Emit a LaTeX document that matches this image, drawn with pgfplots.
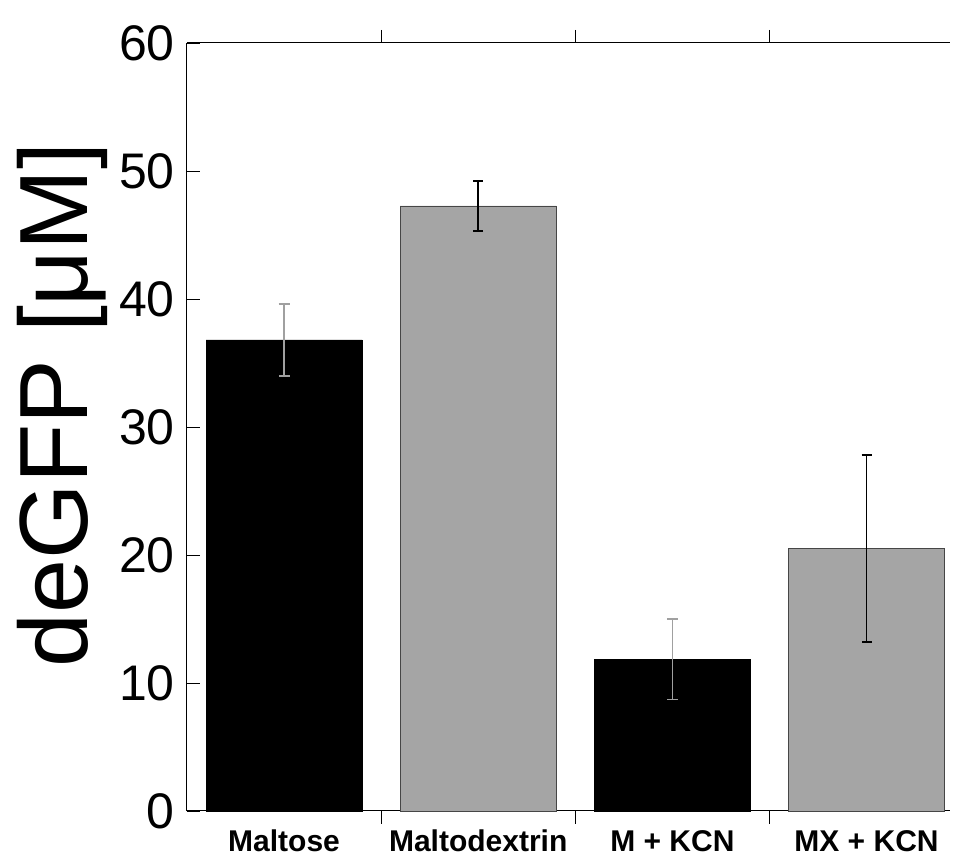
\documentclass[border=0pt]{standalone}
\usepackage{pgfplots}
\pgfplotsset{compat=1.18}
\usepackage{fontspec}
\setmainfont{Liberation Sans}
\definecolor{barg}{RGB}{165,165,165}
\definecolor{edgeg}{RGB}{70,70,70}
\definecolor{errg}{RGB}{160,160,160}
\begin{document}
\begin{tikzpicture}
\begin{axis}[
  scale only axis,
  width=763pt, height=768pt,
  xmin=0.5, xmax=4.43,
  ymin=0, ymax=60,
  axis x line=box,
  axis y line*=left,
  axis line style={line width=1pt, black},
  ytick={0,10,20,30,40,50,60},
  ytick pos=left,
  xtick={1,2,3,4},
  xticklabels={Maltose,Maltodextrin,M + KCN,MX + KCN},
  minor xtick={1.5,2.5,3.5},
  major x tick style={draw=none},
  minor x tick style={line width=0.8pt, black},
  minor tick length=13pt,
  major tick length=13pt,
  tick align=inside,
  y tick style={line width=0.8pt, black},
  /pgf/number format/assume math mode=true,
  yticklabel style={font=\fontsize{50}{50}\selectfont, inner sep=0pt, xshift=-12pt},
  xticklabel style={font=\fontsize{30}{30}\selectfont\bfseries, inner sep=0pt, yshift=-6pt},
  ylabel={deGFP [μM]},
  ylabel style={font=\fontsize{97}{97}\selectfont, at={(axis description cs:-0.131,0.529)}, anchor=base},
  ybar, bar width=0.804, bar shift=0pt,
  clip=false,
]
\addplot[fill=black, draw=black, line width=0.8pt,
  error bars/.cd, y dir=both, y explicit, error mark=|,
  error bar style={line width=1.5pt, color=errg},
  error mark options={line width=1.5pt, color=errg, mark size=5.5pt}]
  coordinates {(1,36.8) +- (0,2.8) (3,11.85) +- (0,3.15)};
\addplot[fill=barg, draw=edgeg, line width=0.8pt,
  error bars/.cd, y dir=both, y explicit, error mark=|,
  error bar style={line width=1.5pt, color=black},
  error mark options={line width=1.5pt, color=black, mark size=5pt}]
  coordinates {(2,47.27) +- (0,1.95) (4,20.52) +- (0,7.3)};
\coordinate (BL) at (rel axis cs:0,0);
\coordinate (TR) at (rel axis cs:1,1);
\end{axis}
\pgfresetboundingbox
\path ([shift={(-187pt,-42pt)}]BL) rectangle ([shift={(6pt,43pt)}]TR);
\end{tikzpicture}
\end{document}
